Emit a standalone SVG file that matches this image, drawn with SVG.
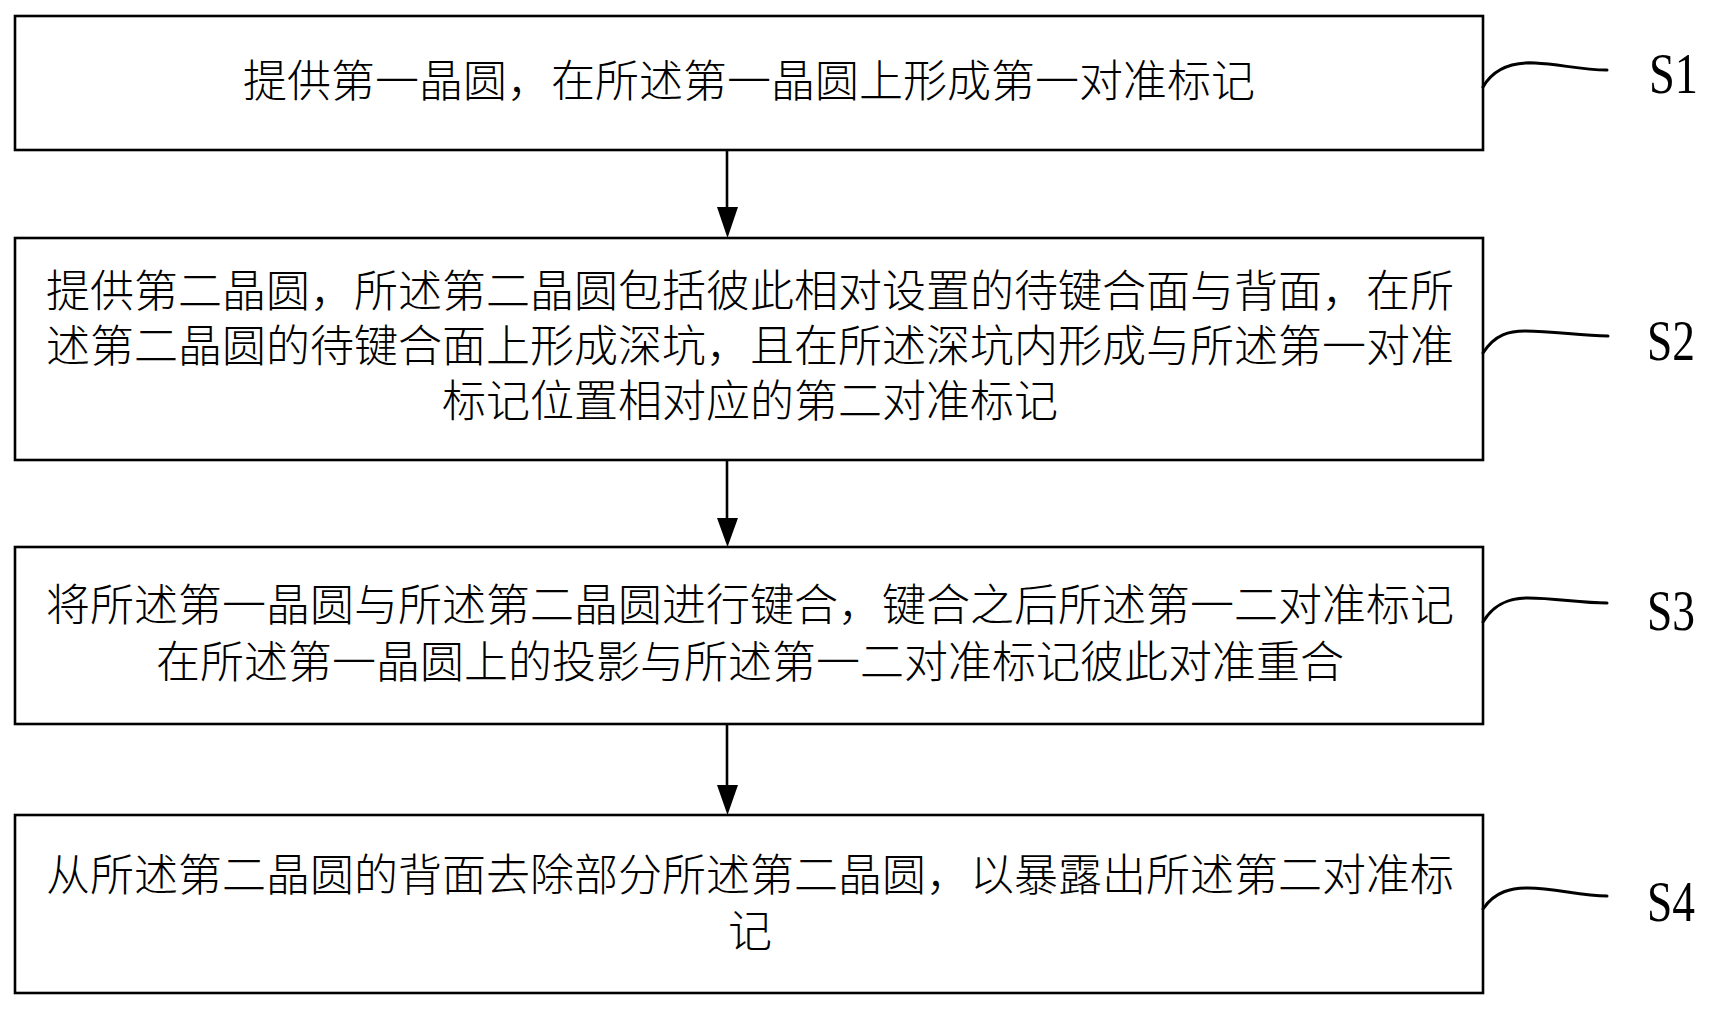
<svg xmlns="http://www.w3.org/2000/svg" width="1712" height="1010" viewBox="0 0 1712 1010">
<style>
.box{fill:#fff;stroke:#000;stroke-width:2.6}
.t{font-family:"Noto Sans CJK SC","Noto Sans CJK TC",sans-serif;font-size:44px;font-weight:300;fill:#000;text-anchor:middle}
.lab{font-family:"Liberation Serif","DejaVu Serif",serif;font-size:56px;fill:#000}
.lead{fill:none;stroke:#000;stroke-width:3;stroke-linecap:round}
.conn{stroke:#000;stroke-width:2.6;fill:none}
</style>
<rect width="1712" height="1010" fill="#fff"/>
<g id="connectors">
<line class="conn" x1="727" y1="150" x2="727" y2="208"/>
<path d="M717,207 L738,207 L727.5,238 Z" fill="#000"/>
<line class="conn" x1="727" y1="460" x2="727" y2="519"/>
<path d="M717,518 L738,518 L727.5,547 Z" fill="#000"/>
<line class="conn" x1="727" y1="724" x2="727" y2="786"/>
<path d="M717,785 L738,785 L727.5,815 Z" fill="#000"/>
</g>
<g id="S1">
<rect class="box" x="15" y="16" width="1468" height="134"/>
<text class="t" x="749" y="97">提供第一晶圆，在所述第一晶圆上形成第一对准标记</text>
<path class="lead" d="M1483,87 C1495,66 1515,62 1535,63 C1560,64 1580,70 1607,70"/>
<text class="lab" x="1649" y="93" textLength="49" lengthAdjust="spacingAndGlyphs">S1</text>
</g>
<g id="S2">
<rect class="box" x="15" y="238" width="1468" height="222"/>
<text class="t" y="307"><tspan x="750" y="307">提供第二晶圆，所述第二晶圆包括彼此相对设置的待键合面与背面，在所</tspan><tspan x="750" y="362">述第二晶圆的待键合面上形成深坑，且在所述深坑内形成与所述第一对准</tspan><tspan x="750" y="417">标记位置相对应的第二对准标记</tspan></text>
<path class="lead" d="M1483,353 C1495,334 1510,331 1525,331 C1555,331 1580,336 1608,336"/>
<text class="lab" x="1647" y="360" textLength="48" lengthAdjust="spacingAndGlyphs">S2</text>
</g>
<g id="S3">
<rect class="box" x="15" y="547" width="1468" height="177"/>
<text class="t" y="621"><tspan x="750" y="621">将所述第一晶圆与所述第二晶圆进行键合，键合之后所述第一二对准标记</tspan><tspan x="750" y="678">在所述第一晶圆上的投影与所述第一二对准标记彼此对准重合</tspan></text>
<path class="lead" d="M1483,622 C1495,602 1512,598 1528,598 C1555,598 1580,603 1607,603"/>
<text class="lab" x="1647" y="630" textLength="48" lengthAdjust="spacingAndGlyphs">S3</text>
</g>
<g id="S4">
<rect class="box" x="15" y="815" width="1468" height="178"/>
<text class="t" y="891"><tspan x="750" y="891">从所述第二晶圆的背面去除部分所述第二晶圆，以暴露出所述第二对准标</tspan><tspan x="750" y="947">记</tspan></text>
<path class="lead" d="M1483,909 C1495,891 1512,888 1528,888 C1555,888 1580,896 1607,896"/>
<text class="lab" x="1647" y="921" textLength="48" lengthAdjust="spacingAndGlyphs">S4</text>
</g>
</svg>
